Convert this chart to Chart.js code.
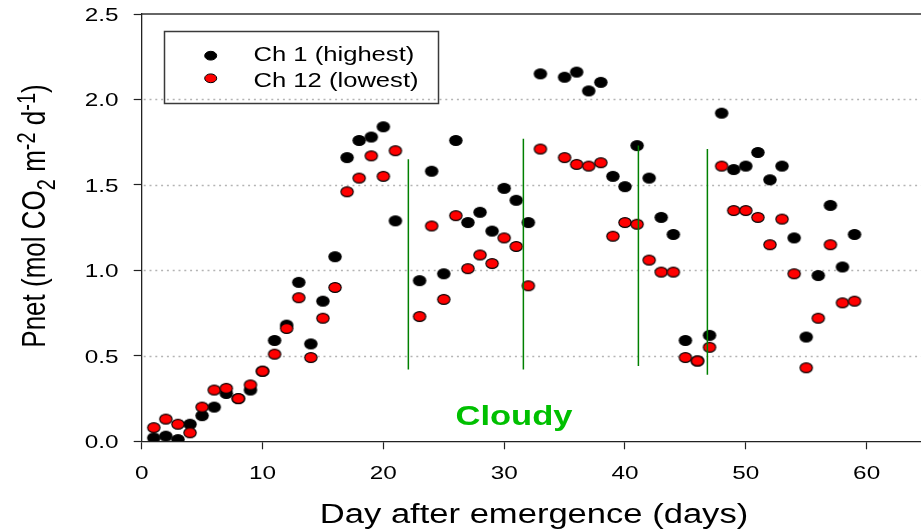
<!DOCTYPE html>
<html><head><meta charset="utf-8">
<script src="https://cdn.jsdelivr.net/npm/chart.js@4/dist/chart.umd.min.js"></script>
<style>html,body{margin:0;padding:0;background:#fff}#wrap{width:921px;height:530px}</style>
</head><body><div id="wrap"><canvas id="c" width="921" height="530"></canvas></div>
<script>
// ---- data ----
const days = [1,2,3,4,5,6,7,8,9,10,11,12,13,14,15,16,17,18,19,20,21,
  23,24,25,26,27,28,29,30,31,32,33,
  35,36,37,38,39,40,41,42,43,44,45,46,47,48,49,50,51,52,53,54,55,56,57,58,59];
const ch1 = [0.02,0.03,0.01,0.10,0.15,0.20,0.28,0.25,0.30,0.41,0.59,0.68,0.93,0.57,0.82,1.08,1.66,1.76,1.78,1.84,1.29,
  0.94,1.58,0.98,1.76,1.28,1.34,1.23,1.48,1.41,1.28,2.15,
  2.13,2.16,2.05,2.10,1.55,1.49,1.73,1.54,1.31,1.21,0.59,0.47,0.62,1.92,1.59,1.61,1.69,1.53,1.61,1.19,0.61,0.97,1.38,1.02,1.21];
const ch12 = [0.08,0.13,0.10,0.05,0.20,0.30,0.31,0.25,0.33,0.41,0.51,0.66,0.84,0.49,0.72,0.90,1.46,1.54,1.67,1.55,1.70,
  0.73,1.26,0.83,1.32,1.01,1.09,1.04,1.19,1.14,0.91,1.71,
  1.66,1.62,1.61,1.63,1.20,1.28,1.27,1.06,0.99,0.99,0.49,0.47,0.55,1.61,1.35,1.35,1.31,1.15,1.30,0.98,0.43,0.72,1.15,0.81,0.82];
const cloudyX = [22.07, 31.59, 41.11, 46.82];
const cloudyTop = [1.65, 1.77, 1.73, 1.71];
const cloudyBottom = [0.42, 0.42, 0.44, 0.39];
const xTicks = [0,10,20,30,40,50,60];
const yTicks = [0,0.5,1.0,1.5,2.0,2.5];
const seriesNames = ['Ch 1 (highest)', 'Ch 12 (lowest)'];
const xTitle = 'Day after emergence (days)';
const cloudyLabel = 'Cloudy';

// ---- styling helpers ----
const SX = 1.28;               // horizontal stretch seen in the reference
const FONT = '"Liberation Sans", Arial, sans-serif';
function ellipseCanvas(fill, stroke, rx, ry) {
  const c = document.createElement('canvas');
  c.width = Math.ceil(2*rx + 3); c.height = Math.ceil(2*ry + 3);
  const g = c.getContext('2d');
  g.beginPath(); g.ellipse(c.width/2, c.height/2, rx, ry, 0, 0, Math.PI*2);
  g.fillStyle = fill; g.fill();
  g.lineWidth = 1.1; g.strokeStyle = stroke; g.stroke();
  return c;
}
const blackDot = ellipseCanvas('#000', '#000', 6.2, 4.9);
const redDot = ellipseCanvas('#ff0000', '#000', 6.2, 4.9);

function sText(ctx, text, x, y, font, align, color) {
  ctx.save();
  ctx.font = font; ctx.fillStyle = color; ctx.textBaseline = 'alphabetic'; ctx.textAlign = 'left';
  const w = ctx.measureText(text).width * SX;
  const left = align === 'center' ? x - w/2 : align === 'right' ? x - w : x;
  ctx.translate(left, y); ctx.scale(SX, 1);
  ctx.fillText(text, 0, 0);
  ctx.restore();
}

const datasets = [
  { label: seriesNames[0], data: days.map((d,i)=>({x:d,y:ch1[i]})), pointStyle: blackDot, pointRadius: 6,
    backgroundColor:'#000', borderColor:'#000', order: 2 },
  { label: seriesNames[1], data: days.map((d,i)=>({x:d,y:ch12[i]})), pointStyle: redDot, pointRadius: 6,
    backgroundColor:'#ff0000', borderColor:'#000', order: 1 }
];
cloudyX.forEach((cx, i) => datasets.push({
  label: 'cloudy' + i, data: [{x:cx, y:cloudyBottom[i]}, {x:cx, y:cloudyTop[i]}],
  showLine: true, pointRadius: 0, borderColor: '#008000', borderWidth: 1.5, order: 0
}));

const decor = {
  id: 'decor',
  beforeDatasetsDraw(chart) {
    const {ctx, chartArea: a, scales: {y}} = chart;
    ctx.save();
    ctx.strokeStyle = '#b4b4b4'; ctx.lineWidth = 1.6; ctx.setLineDash([2, 3.8]);
    yTicks.forEach(v => {
      if (v <= 0 || v >= 2.5) return;
      const py = Math.round(y.getPixelForValue(v)) + 0.5;
      ctx.beginPath(); ctx.moveTo(a.left + 2, py); ctx.lineTo(a.right, py); ctx.stroke();
    });
    ctx.setLineDash([]);
    ctx.strokeStyle = '#333'; ctx.lineWidth = 1.4;
    ctx.beginPath(); ctx.moveTo(a.left, a.top); ctx.lineTo(a.right, a.top); ctx.stroke();
    ctx.restore();
  },
  afterDraw(chart) {
    const {ctx, chartArea: a, scales: {x, y}} = chart;
    const tf = '19px ' + FONT;
    // tick labels
    y.ticks.forEach(t => sText(ctx, t.value.toFixed(1), 118.5, y.getPixelForValue(t.value) + 7, tf, 'right', '#000'));
    x.ticks.forEach(t => sText(ctx, String(t.value), x.getPixelForValue(t.value), 479, tf, 'center', '#000'));
    // x title
    sText(ctx, xTitle, 534, 523, '27px ' + FONT, 'center', '#000');
    // y title (rotated, with sub/superscripts)
    const segs = [
      {t:'Pnet (mol CO', s:26, o:0}, {t:'2', s:20, o:8}, {t:' m', s:26, o:0},
      {t:'-2', s:20, o:-8}, {t:' d', s:26, o:0}, {t:'-1', s:20, o:-8}, {t:')', s:26, o:0}
    ];
    ctx.save();
    let W = 0;
    segs.forEach(g => { ctx.font = g.s + 'px ' + FONT; g.w = ctx.measureText(g.t).width; W += g.w; });
    ctx.translate(45, 216); ctx.scale(SX, 1); ctx.rotate(-Math.PI/2);
    ctx.fillStyle = '#000'; ctx.textBaseline = 'alphabetic'; ctx.textAlign = 'left';
    let cx = -W/2;
    segs.forEach(g => { ctx.font = g.s + 'px ' + FONT; ctx.fillText(g.t, cx, g.o); cx += g.w; });
    ctx.restore();
    // legend
    ctx.save();
    ctx.strokeStyle = '#3a3a3a'; ctx.lineWidth = 1.5;
    ctx.strokeRect(164.5, 31.5, 274, 72);
    const lf = '20px ' + FONT;
    const rows = [{y:55.7, ty:61, ds:chart.data.datasets[0]}, {y:78.3, ty:86.7, ds:chart.data.datasets[1]}];
    rows.forEach(r => {
      ctx.beginPath(); ctx.ellipse(210.7, r.y, 6, 4.4, 0, 0, Math.PI*2);
      ctx.fillStyle = r.ds.backgroundColor; ctx.fill();
      ctx.lineWidth = 1; ctx.strokeStyle = r.ds.borderColor; ctx.stroke();
      sText(ctx, r.ds.label, 253.5, r.ty, lf, 'left', '#000');
    });
    ctx.restore();
    // Cloudy label
    sText(ctx, cloudyLabel, 514, 425, 'bold 27px ' + FONT, 'center', '#00c000');
  }
};

function noPad(s) { s.paddingLeft = 0; s.paddingRight = 0; s.paddingTop = 0; s.paddingBottom = 0; }

new Chart(document.getElementById('c'), {
  type: 'scatter',
  data: { datasets },
  options: {
    responsive: false, animation: false, events: [],
    layout: { autoPadding: false, padding: { top: 14, left: 0, right: 0, bottom: 0 } },
    plugins: { legend: { display: false }, tooltip: { enabled: false } },
    scales: {
      x: {
        type: 'linear', min: 0, max: 64.5,
        afterBuildTicks: s => { s.ticks = xTicks.map(v => ({value: v})); },
        afterFit: s => { s.height = 88.7; noPad(s); },
        ticks: { display: false },
        grid: { display: true, drawOnChartArea: false, drawTicks: true, tickLength: 8, tickColor: '#222', tickWidth: 1.2 },
        border: { display: true, color: '#222', width: 1.3 }
      },
      y: {
        type: 'linear', min: 0, max: 2.5,
        afterBuildTicks: s => { s.ticks = yTicks.map(v => ({value: v})); },
        afterFit: s => { s.width = 141.7; noPad(s); },
        ticks: { display: false },
        grid: { display: true, drawOnChartArea: false, drawTicks: true, tickLength: 8, tickColor: '#222', tickWidth: 1.2 },
        border: { display: true, color: '#222', width: 1.3 }
      }
    }
  },
  plugins: [decor]
});
</script>
</body></html>
